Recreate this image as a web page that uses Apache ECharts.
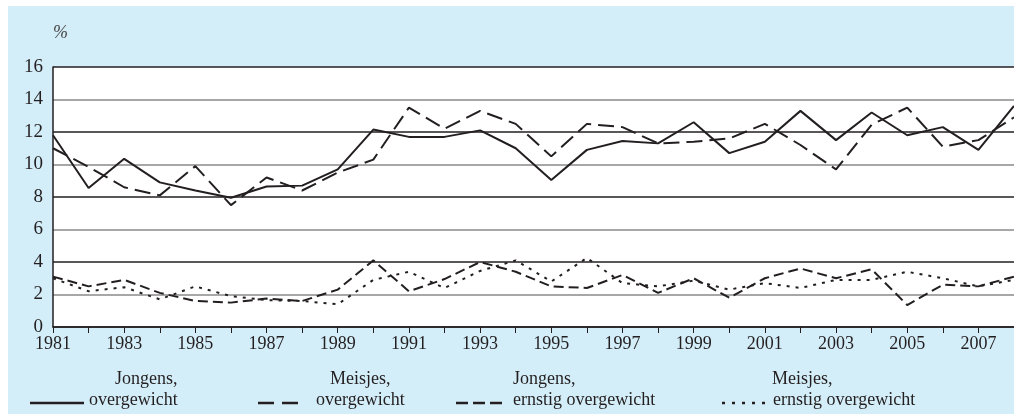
<!DOCTYPE html>
<html>
<head>
<meta charset="utf-8">
<script src="https://cdn.jsdelivr.net/npm/echarts@6/dist/echarts.min.js"></script>
<style>
  html, body { margin: 0; padding: 0; background: #ffffff; }
  #frame { position: absolute; left: 8px; top: 6px; width: 1006px; height: 408px; background: #d4eef9; }
  #chart { width: 1006px; height: 408px; }
</style>
</head>
<body>
<div id="frame"><div id="chart"></div></div>
<script>
// Years on the horizontal axis
const years = ['1981','1982','1983','1984','1985','1986','1987','1988','1989','1990',
  '1991','1992','1993','1994','1995','1996','1997','1998','1999','2000',
  '2001','2002','2003','2004','2005','2006','2007','2008'];

// Percentages per year
const jongensOvergewicht = [11.8, 8.55, 10.35, 8.9, 8.4, 7.95, 8.65, 8.7, 9.7, 12.15,
  11.7, 11.7, 12.1, 11.0, 9.05, 10.9, 11.45, 11.3, 12.6, 10.7,
  11.4, 13.3, 11.5, 13.2, 11.8, 12.3, 10.9, 13.6];
const meisjesOvergewicht = [11.0, 9.85, 8.6, 8.1, 9.9, 7.5, 9.2, 8.4, 9.5, 10.3,
  13.5, 12.2, 13.3, 12.5, 10.5, 12.5, 12.3, 11.3, 11.4, 11.6,
  12.5, 11.2, 9.7, 12.45, 13.5, 11.1, 11.5, 12.9];
const jongensErnstig = [3.1, 2.5, 2.9, 2.1, 1.6, 1.5, 1.75, 1.6, 2.3, 4.1,
  2.2, 2.95, 4.0, 3.4, 2.5, 2.4, 3.2, 2.1, 3.0, 1.8,
  3.0, 3.6, 3.0, 3.55, 1.35, 2.6, 2.5, 3.1];
const meisjesErnstig = [3.0, 2.2, 2.45, 1.7, 2.5, 1.9, 1.65, 1.6, 1.4, 2.9,
  3.4, 2.4, 3.45, 4.1, 2.8, 4.25, 2.7, 2.5, 2.85, 2.3,
  2.7, 2.4, 2.9, 2.9, 3.4, 3.0, 2.5, 2.9];

const ink = '#231f20';
const serif = '"Liberation Serif", "DejaVu Serif", serif';

// Legend entries: name lines and dash pattern
const legendItems = [
  { l1: 'Jongens,', l2: 'overgewicht', dash: 'solid', x0: 22, x1: 76, t1: 107, t2: 81 },
  { l1: 'Meisjes,', l2: 'overgewicht', dash: [16, 8], x0: 250, x1: 296, t1: 322, t2: 308 },
  { l1: 'Jongens,', l2: 'ernstig overgewicht', dash: [12, 5], x0: 448, x1: 497, t1: 505, t2: 505 },
  { l1: 'Meisjes,', l2: 'ernstig overgewicht', dash: [3, 7], x0: 714, x1: 758, t1: 764, t2: 765 }
];

const legendGraphics = [];
legendItems.forEach(function (it) {
  legendGraphics.push({
    type: 'line', silent: true,
    shape: { x1: it.x0, y1: 397, x2: it.x1, y2: 397 },
    style: { stroke: ink, lineWidth: 2.5, lineDash: it.dash === 'solid' ? null : it.dash }
  });
  legendGraphics.push({
    type: 'text', left: it.t1, top: 364,
    style: { text: it.l1, font: '18px ' + serif, fill: ink }
  });
  legendGraphics.push({
    type: 'text', left: it.t2, top: 385,
    style: { text: it.l2, font: '18px ' + serif, fill: ink }
  });
});

function lineSeries(name, data, type) {
  return {
    name: name, type: 'line', data: data,
    showSymbol: false, symbol: 'none', animation: false,
    lineStyle: { color: ink, width: 2, type: type },
    itemStyle: { color: ink }
  };
}

const chart = echarts.init(document.getElementById('chart'), null, { renderer: 'canvas' });
chart.setOption({
  animation: false,
  backgroundColor: 'transparent',
  grid: { left: 45, right: 0, top: 61, bottom: 87, show: true, backgroundColor: '#ffffff', borderWidth: 0 },
  xAxis: {
    type: 'category', data: years, boundaryGap: false,
    axisLine: { show: true, lineStyle: { color: ink, width: 1.5 } },
    axisTick: { show: true, interval: 0, length: 6, lineStyle: { color: ink, width: 1 } },
    axisLabel: { interval: 1, margin: 8, color: ink, fontFamily: serif, fontSize: 18 },
    splitLine: { show: false }
  },
  yAxis: {
    type: 'value', min: 0, max: 16, interval: 2,
    axisLine: { show: true, lineStyle: { color: ink, width: 1.5 } },
    axisTick: { show: false },
    axisLabel: { margin: 10, color: ink, fontFamily: serif, fontSize: 19 },
    splitLine: { show: true, lineStyle: { color: [ink, '#8a8a8a'], width: 1.5 } }
  },
  graphic: [
    { type: 'text', left: 45, top: 18, style: { text: '%', font: 'italic 18px ' + serif, fill: '#444' } }
  ].concat(legendGraphics),
  series: [
    lineSeries('Jongens, overgewicht', jongensOvergewicht, 'solid'),
    lineSeries('Meisjes, overgewicht', meisjesOvergewicht, [16, 7]),
    lineSeries('Jongens, ernstig overgewicht', jongensErnstig, [10, 5]),
    lineSeries('Meisjes, ernstig overgewicht', meisjesErnstig, [3, 6])
  ]
});
</script>
</body>
</html>
